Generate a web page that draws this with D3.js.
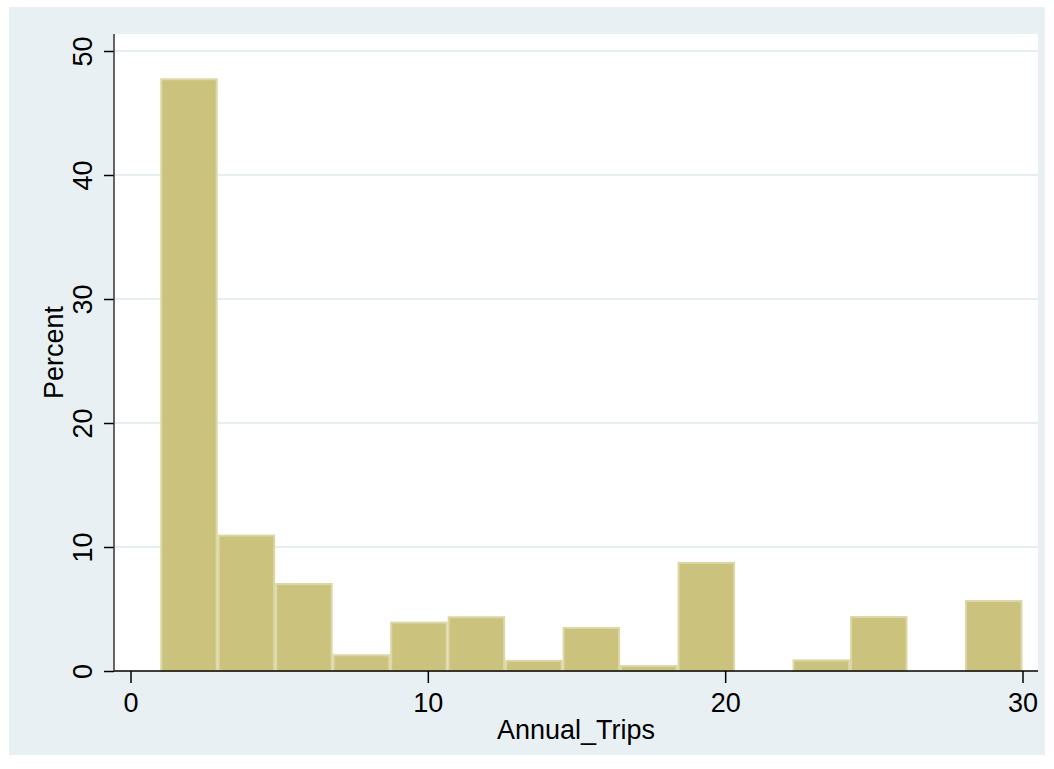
<!DOCTYPE html>
<html>
<head>
<meta charset="utf-8">
<script src="https://cdn.jsdelivr.net/npm/d3@7/dist/d3.min.js"></script>
<style>
  body { margin: 0; background: #fff; }
  svg text { font-family: "Liberation Sans", Arial, sans-serif; fill: #000; }
</style>
</head>
<body>
<div id="chart"></div>
<script>
// Histogram of Annual_Trips (Stata s2color look)

// bins: 15 equal-width bins from 1 to 30
const binLow = 1;
const binHigh = 30;
const percents = [47.8, 11.0, 7.1, 1.35, 3.98, 4.42, 0.9, 3.55, 0.48, 8.8, 0, 0.94, 4.43, 0, 5.72];
const xTicks = [0, 10, 20, 30];
const yTicks = [0, 10, 20, 30, 40, 50];
const xTitle = "Annual_Trips";
const yTitle = "Percent";

const width = 1054;
const height = 769;
const fontSize = 27;

// plot region (white area)
const plot = { left: 114, right: 1038, top: 34, bottom: 671 };

const binWidth = (binHigh - binLow) / percents.length;
const bins = percents.map((p, i) => ({
  x0: binLow + i * binWidth,
  x1: binLow + (i + 1) * binWidth,
  pct: p
}));

const svg = d3.select("#chart")
  .append("svg")
  .attr("width", width)
  .attr("height", height);

// outer background
svg.append("rect")
  .attr("x", 9).attr("y", 7)
  .attr("width", 1036).attr("height", 748)
  .attr("fill", "#e9f0f3");

// plot background
svg.append("rect")
  .attr("x", plot.left).attr("y", plot.top)
  .attr("width", plot.right - plot.left)
  .attr("height", plot.bottom - plot.top)
  .attr("fill", "#fff");

const x = d3.scaleLinear().domain([0, 30]).range([130.5, 1022.5]);
const y = d3.scaleLinear().domain([0, 50]).range([671, 51]);

// gridlines
svg.append("g")
  .selectAll("line")
  .data(yTicks.filter(d => d > 0))
  .join("line")
  .attr("x1", plot.left)
  .attr("x2", plot.right)
  .attr("y1", d => y(d))
  .attr("y2", d => y(d))
  .attr("stroke", "#e6eef1")
  .attr("stroke-width", 2);

// bars
svg.append("g")
  .selectAll("rect")
  .data(bins.filter(d => d.pct > 0))
  .join("rect")
  .attr("x", d => x(d.x0) + 1)
  .attr("y", d => y(d.pct) + 1)
  .attr("width", d => x(d.x1) - x(d.x0) - 2)
  .attr("height", d => y(0) - y(d.pct) - 1)
  .attr("fill", "#cbc37d")
  .attr("stroke", "#dcd7a6")
  .attr("stroke-width", 2);

// x axis
const xAxis = svg.append("g")
  .attr("transform", `translate(0,${plot.bottom})`)
  .call(d3.axisBottom(x).tickValues(xTicks).tickSize(12).tickPadding(10));
xAxis.select(".domain").remove();
xAxis.append("line")
  .attr("x1", plot.left).attr("x2", plot.right)
  .attr("stroke", "#000").attr("stroke-width", 1.5);
xAxis.selectAll(".tick line").attr("stroke", "#000").attr("stroke-width", 1.5);
xAxis.selectAll(".tick text")
  .attr("font-size", fontSize)
  .attr("font-family", "Liberation Sans, Arial, sans-serif")
  .attr("fill", "#000");

// y axis
const yAxis = svg.append("g")
  .attr("transform", `translate(${plot.left},0)`)
  .call(d3.axisLeft(y).tickValues(yTicks).tickSize(10).tickPadding(0));
yAxis.select(".domain").remove();
yAxis.append("line")
  .attr("y1", plot.top).attr("y2", plot.bottom)
  .attr("stroke", "#333").attr("stroke-width", 1.5);
yAxis.selectAll(".tick line").attr("stroke", "#000").attr("stroke-width", 1.5);
yAxis.selectAll(".tick text")
  .attr("font-size", fontSize)
  .attr("font-family", "Liberation Sans, Arial, sans-serif")
  .attr("fill", "#000")
  .attr("text-anchor", "middle")
  .attr("x", null)
  .attr("transform", "translate(-31.5,0) rotate(-90)")
  .attr("dy", "0.35em");

// axis titles
svg.append("text")
  .attr("x", (plot.left + plot.right) / 2)
  .attr("y", 739)
  .attr("text-anchor", "middle")
  .attr("font-size", fontSize)
  .text(xTitle);

svg.append("text")
  .attr("transform", `translate(63,${(plot.top + plot.bottom) / 2}) rotate(-90)`)
  .attr("text-anchor", "middle")
  .attr("font-size", fontSize)
  .text(yTitle);
</script>
</body>
</html>
